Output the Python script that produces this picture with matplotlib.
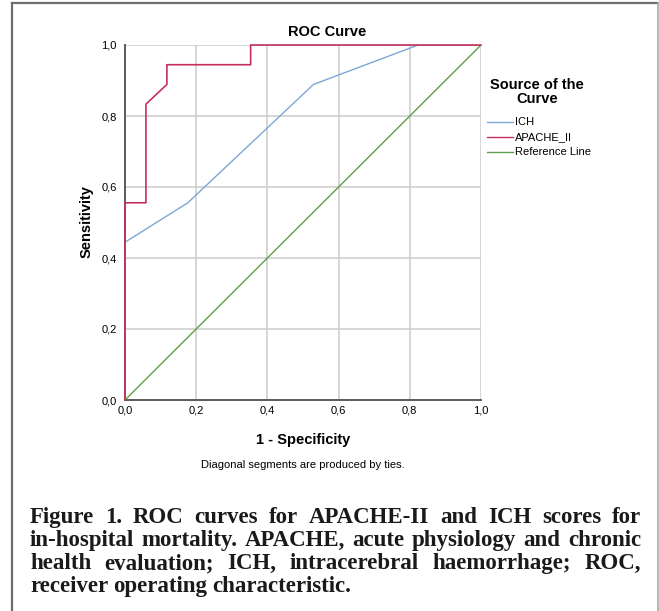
import matplotlib
matplotlib.use("Agg")
import matplotlib.pyplot as plt
from matplotlib.lines import Line2D

# ROC coordinates (1 - specificity, sensitivity), 17 negatives / 18 positives
ich_fpr = [0.0, 0.0, 3/17, 9/17, 14/17, 1.0]
ich_tpr = [0.0, 8/18, 10/18, 16/18, 1.0, 1.0]
apache_fpr = [0.0, 0.0, 1/17, 1/17, 2/17, 2/17, 6/17, 6/17, 1.0]
apache_tpr = [0.0, 10/18, 10/18, 15/18, 16/18, 17/18, 17/18, 1.0, 1.0]
ref_line = [0.0, 1.0]
ticks = [0.0, 0.2, 0.4, 0.6, 0.8, 1.0]
tick_labels = ["0,0", "0,2", "0,4", "0,6", "0,8", "1,0"]
series_names = ["ICH", "APACHE_II", "Reference Line"]
series_colors = ["#7da7d4", "#c4305a", "#5c9e4a"]

caption_lines = [
    "Figure 1. ROC curves for APACHE-II and ICH scores for",
    "in-hospital mortality. APACHE, acute physiology and chronic",
    "health evaluation; ICH, intracerebral haemorrhage; ROC,",
    "receiver operating characteristic.",
]

W, H = 659, 611
fig = plt.figure(figsize=(W / 100, H / 100), dpi=100)
fig.patch.set_facecolor("white")

def px(x, y):
    return x / W, 1 - y / H

# outer frame (left, top, right)
frame = dict(color="#6e6e6e", lw=1.6, transform=fig.transFigure)
fig.add_artist(Line2D([px(12, 0)[0], px(12, 0)[0]], [0, px(0, 3)[1]], **frame))
fig.add_artist(Line2D([px(12, 0)[0], 1], [px(0, 3)[1], px(0, 3)[1]], **frame))
fig.add_artist(Line2D([px(657.5, 0)[0], px(657.5, 0)[0]], [0, px(0, 3)[1]],
                      color="#aaaaaa", lw=1.2, transform=fig.transFigure))

ax = fig.add_axes([125 / W, 1 - 400 / H, 356 / W, 355 / H])
sans = "Liberation Sans"

ax.plot(ref_line, ref_line, color=series_colors[2], lw=1.0, zorder=3)
ax.plot(ich_fpr, ich_tpr, color=series_colors[0], lw=1.0, zorder=4)
ax.plot(apache_fpr, apache_tpr, color=series_colors[1], lw=1.2, zorder=5,
        clip_on=False)

ax.set_xlim(0, 1)
ax.set_ylim(0, 1)
ax.set_xticks(ticks)
ax.set_yticks(ticks)
ax.set_xticklabels(tick_labels, fontsize=8, family=sans)
ax.set_yticklabels(tick_labels, fontsize=8, family=sans)
ax.tick_params(axis="x", length=0, pad=4)
ax.tick_params(axis="y", length=0, pad=6)
ax.grid(True, color="#cccccc", lw=1.1)
ax.set_axisbelow(True)
for s in ["top", "right"]:
    ax.spines[s].set_visible(False)
for s in ["left", "bottom"]:
    ax.spines[s].set_color("#5a5a5a")
    ax.spines[s].set_linewidth(1.4)

fig.text(*px(327, 32), "ROC Curve", ha="center", va="center",
         fontsize=10.5, fontweight="bold", family=sans)
fig.text(*px(87, 222), "Sensitivity", ha="center", va="center",
         rotation=90, fontsize=10.5, fontweight="bold", family=sans)
fig.text(*px(303, 440), "1 - Specificity", ha="center", va="center",
         fontsize=10.5, fontweight="bold", family=sans)
fig.text(*px(303, 465), "Diagonal segments are produced by ties.",
         ha="center", va="center", fontsize=8, family=sans)

# legend
fig.text(*px(537, 92), "Source of the\nCurve", ha="center", va="center",
         fontsize=10.5, fontweight="bold", family=sans, linespacing=1.0)
for i, (name, col) in enumerate(zip(series_names, series_colors)):
    y = 122 + 15 * i
    fig.add_artist(Line2D([px(487, 0)[0], px(513, 0)[0]], [px(0, y)[1]] * 2,
                          color=col, lw=1.0, transform=fig.transFigure))
    fig.text(*px(515, y), name, ha="left", va="center", fontsize=8, family=sans)

# justified caption
serif = "Liberation Serif"
left, right = 30, 641
renderer = fig.canvas.get_renderer()
for i, line in enumerate(caption_lines):
    y = px(0, 523 + 23 * i)[1]
    words = line.split()
    objs = [fig.text(0, y, w, fontsize=16.5, fontweight="bold", family=serif,
                     va="baseline", ha="left", color="#1a1a1a") for w in words]
    widths = [o.get_window_extent(renderer).width for o in objs]
    if i < len(caption_lines) - 1:
        gap = (right - left - sum(widths)) / (len(words) - 1)
    else:
        gap = objs[0].get_fontsize() * 0.3
    x = left
    for o, w in zip(objs, widths):
        o.set_x(x / W)
        x += w + gap

fig.savefig("out.png", dpi=100, facecolor="white")
